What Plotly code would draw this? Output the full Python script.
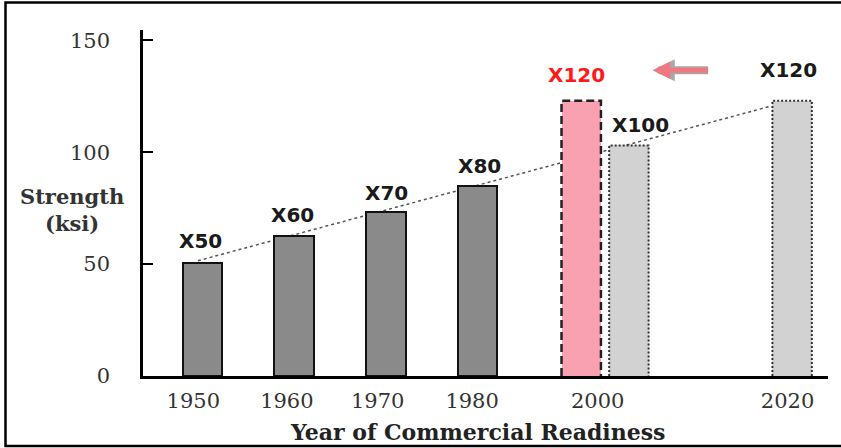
import plotly.graph_objects as go

# Line-pipe steel grades and their strength (ksi)
grades = ["X50", "X60", "X70", "X80", "X120", "X100", "X120"]
strength = [50.5, 62.5, 73.5, 85, 123, 103, 123]
bar_style = ["solid", "solid", "solid", "solid", "dash", "dot", "dot"]

# Year axis labels
year_labels = ["1950", "1960", "1970", "1980", "2000", "2020"]

# Dotted trend line: start and end strength values
trend_values = [51.5, 120.5]

# ---- layout helpers (slot positions along the year axis) ----
bar_pos = [0, 1, 2, 3, 4.13, 4.65, 6.43]
year_pos = [-0.1, 0.92, 1.91, 2.94, 4.31, 6.38]
trend_pos = [-0.05, 6.19]
bar_w = 0.43
label_dx = [-2, -2, 1, 2, -5, 12, -4]
label_dy = [22, 21, 19, 20, 26, 20, 31]

W, H = 841, 448
L, R, T, B = 143, 13, 30, 72
PW, PH = W - L - R, H - T - B


def px(x):
    return (x - L) / PW


def py(y):
    return (H - B - y) / PH


fill = {"solid": "#8a8a8a", "dash": "#f9a1b0", "dot": "#d2d2d2"}

fig = go.Figure()

# bar bodies
fig.add_trace(go.Bar(
    x=bar_pos, y=strength, width=bar_w,
    marker=dict(
        color=[fill[s] for s in bar_style],
        line=dict(color=["#111" if s == "solid" else "rgba(0,0,0,0)" for s in bar_style],
                  width=2),
    ),
    hoverinfo="skip", showlegend=False,
))

# dashed / dotted outlines for the newer grades
for xp, v, s in zip(bar_pos, strength, bar_style):
    if s == "solid":
        continue
    x0, x1 = xp - bar_w / 2, xp + bar_w / 2
    fig.add_trace(go.Scatter(
        x=[x0, x0, x1, x1], y=[0, v, v, 0], mode="lines",
        line=dict(color="#222" if s == "dash" else "#333",
                  width=2.5 if s == "dash" else 2,
                  dash="8px,4px" if s == "dash" else "2px,2px"),
        hoverinfo="skip", showlegend=False,
    ))

shapes = [
    # trend line behind the bars
    dict(type="line", xref="x", yref="y", layer="below",
         x0=trend_pos[0], y0=trend_values[0], x1=trend_pos[1], y1=trend_values[1],
         line=dict(color="#555", width=1.5, dash="dot")),
    # frame around the figure
    dict(type="path", xref="paper", yref="paper",
         path=f"M {px(860)},{py(2.5)} L {px(5.5)},{py(2.5)} L {px(5.5)},{py(446)} L {px(860)},{py(446)}",
         line=dict(color="#000", width=2.5)),
]

annotations = []
for xp, v, g, dx, dy, s in zip(bar_pos, strength, grades, label_dx, label_dy, bar_style):
    annotations.append(dict(
        x=xp, y=v, xref="x", yref="y", text=g, showarrow=False,
        xshift=dx, yshift=dy, yanchor="middle", xanchor="center",
        font=dict(family="DejaVu Sans", size=20, weight="bold",
                  color="#ff1a1a" if s == "dash" else "#1a1a1a"),
    ))

# arrow pointing from the 2020 target back to 2000
arrow_y = 136.6
for col, wd in (("#a8a8a8", 8), ("#f07880", 5)):
    annotations.append(dict(
        x=4.91, y=arrow_y, ax=5.53, ay=arrow_y, xref="x", yref="y", axref="x", ayref="y",
        text="", showarrow=True, arrowhead=2, arrowsize=0.55 if wd == 8 else 0.7,
        arrowwidth=wd, arrowcolor=col,
    ))

# axis titles
annotations.append(dict(
    x=px(72), y=py(210), xref="paper", yref="paper", showarrow=False,
    xanchor="center", yanchor="middle",
    text="Strength<br>(ksi)", align="center",
    font=dict(family="DejaVu Serif", size=21, weight="bold", color="#333"),
))
annotations.append(dict(
    x=px(477), y=py(432), xref="paper", yref="paper", showarrow=False,
    xanchor="center", yanchor="middle",
    text="Year of Commercial Readiness",
    font=dict(family="DejaVu Serif", size=22, weight="bold", color="#222"),
))

fig.update_layout(
    width=W, height=H,
    margin=dict(l=L, r=R, t=T, b=B),
    paper_bgcolor="white", plot_bgcolor="white",
    shapes=shapes, annotations=annotations,
    bargap=0,
    xaxis=dict(
        range=[(L - 202.5) / 91.7, (W - R - 202.5) / 91.7],
        tickvals=year_pos, ticktext=year_labels,
        showline=True, linecolor="#000", linewidth=2.5,
        showgrid=False, zeroline=False, ticks="",
        tickfont=dict(family="DejaVu Serif", size=21, color="#333"),
        ticklabelstandoff=4,
    ),
    yaxis=dict(
        range=[0, 154.6],
        tickvals=[0, 50, 100, 150],
        showline=True, linecolor="#000", linewidth=2.5,
        showgrid=False, zeroline=False,
        ticks="inside", ticklen=10, tickwidth=2, tickcolor="#000",
        tickfont=dict(family="DejaVu Serif", size=21, color="#333"),
        ticklabelstandoff=26,
    ),
)

fig.write_html("out.html")
